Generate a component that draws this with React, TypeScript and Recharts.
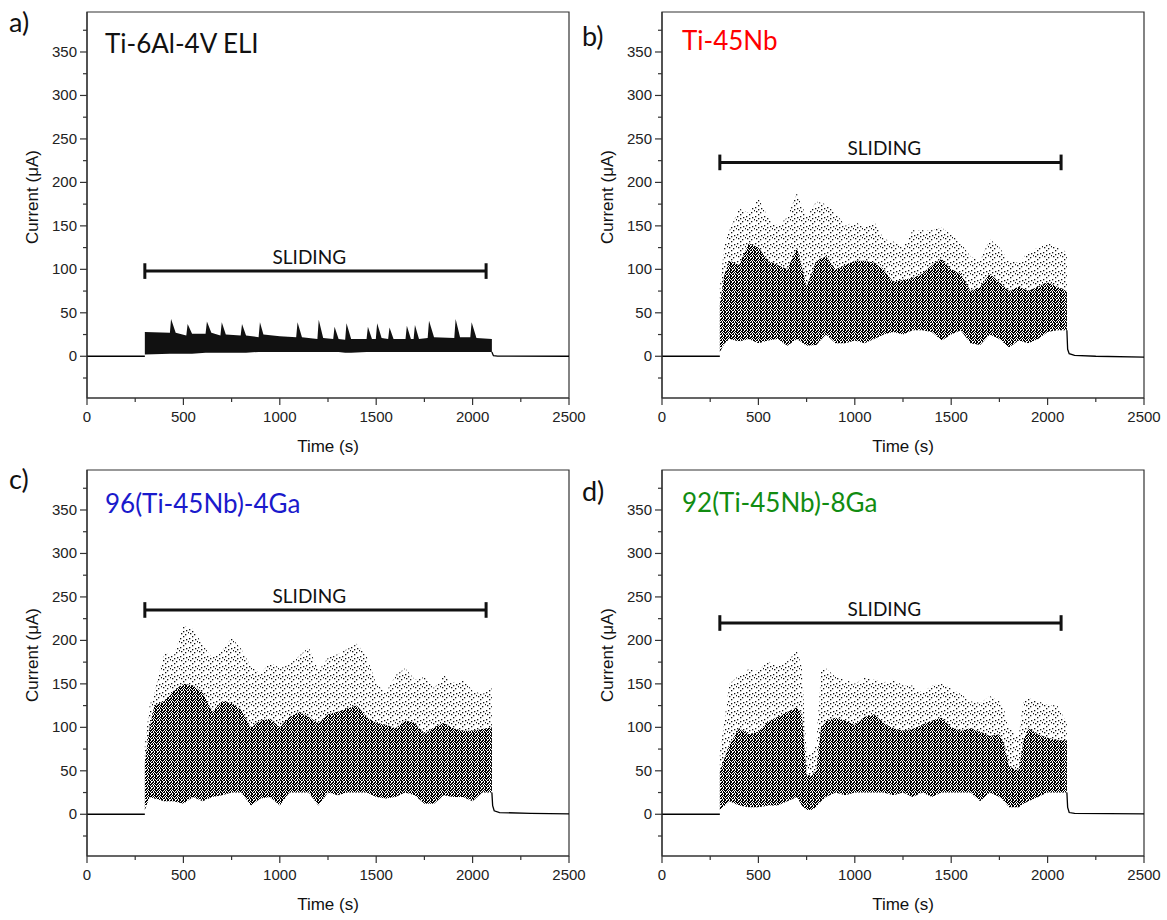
import {
  ComposedChart,
  Area,
  Line,
  XAxis,
  YAxis,
  ReferenceArea,
  ReferenceLine,
  ReferenceDot,
} from "recharts"

// axis ticks (minor + major)
const xTicks = [0, 250, 500, 750, 1000, 1250, 1500, 1750, 2000, 2250, 2500]
const yTicks = [-25, 0, 25, 50, 75, 100, 125, 150, 175, 200, 225, 250, 275, 300, 325, 350, 375]

// a) Ti-6Al-4V ELI
const aTime = [300, 430, 436, 460, 515, 522, 545, 615, 622, 645, 692, 699, 720, 797, 804, 825, 890, 897, 915, 1000, 1085, 1092, 1115, 1195, 1202, 1225, 1277, 1284, 1305, 1339, 1346, 1370, 1450, 1457, 1478, 1498, 1505, 1528, 1562, 1569, 1590, 1652, 1659, 1680, 1694, 1701, 1722, 1767, 1774, 1800, 1905, 1912, 1935, 1988, 1995, 2020, 2100]
const aLow = [2, 3, 3, 3, 3, 3, 3, 4, 4, 4, 4, 4, 4, 4, 4, 4, 5, 5, 5, 5, 5, 5, 5, 5, 5, 5, 5, 5, 5, 4, 4, 4, 5, 5, 5, 5, 5, 5, 5, 5, 5, 5, 5, 5, 5, 5, 5, 5, 5, 5, 5, 5, 5, 5, 5, 5, 5]
const aHigh = [28, 27, 43, 27, 24, 37, 26, 26, 40, 27, 24, 39, 25, 24, 37, 24, 22, 39, 25, 23, 22, 39, 22, 20, 42, 21, 20, 34, 20, 19, 38, 20, 20, 34, 20, 20, 38, 21, 20, 33, 20, 20, 35, 20, 20, 36, 20, 21, 41, 22, 21, 43, 22, 22, 39, 21, 20]
const aBaseTime = [0, 300, 1200, 2100, 2108, 2130, 2500]
const aBaseValue = [0, 0, null, 5, 0.6, 0.2, 0]

// b) Ti-45Nb
const bTime = [300, 325, 350, 400, 450, 500, 550, 600, 650, 700, 750, 800, 850, 900, 950, 1000, 1050, 1100, 1150, 1200, 1250, 1300, 1350, 1400, 1450, 1500, 1550, 1600, 1650, 1700, 1750, 1800, 1850, 1900, 1950, 2000, 2050, 2100]
const bLow = [5, 15, 20, 17, 20, 15, 18, 20, 12, 20, 12, 13, 25, 15, 15, 18, 15, 20, 25, 28, 25, 30, 30, 28, 18, 25, 30, 15, 13, 25, 20, 10, 18, 15, 20, 28, 30, 30]
const bHigh = [60, 95, 110, 105, 130, 125, 110, 105, 100, 125, 80, 110, 115, 100, 105, 110, 110, 108, 100, 85, 88, 90, 95, 105, 112, 100, 95, 75, 80, 95, 85, 75, 80, 75, 80, 85, 80, 75]
const bTop = [80, 130, 145, 170, 165, 182, 160, 150, 160, 188, 160, 178, 175, 165, 150, 155, 148, 155, 135, 132, 125, 145, 145, 145, 148, 140, 130, 115, 110, 135, 125, 110, 108, 120, 125, 130, 125, 120]
const bBaseTime = [0, 300, 1200, 2100, 2104, 2112, 2140, 2250, 2500]
const bBaseValue = [0, 0, null, 30, 8, 3, 1, 0, -1]

// c) 96(Ti-45Nb)-4Ga
const cTime = [300, 325, 350, 400, 450, 500, 550, 600, 650, 700, 750, 800, 850, 900, 950, 1000, 1050, 1100, 1150, 1200, 1250, 1300, 1350, 1400, 1450, 1500, 1550, 1600, 1650, 1700, 1750, 1800, 1850, 1900, 1950, 2000, 2050, 2100]
const cLow = [5, 20, 18, 15, 15, 12, 20, 15, 20, 22, 25, 25, 10, 18, 20, 10, 25, 25, 25, 10, 25, 22, 25, 25, 25, 20, 18, 20, 25, 22, 12, 12, 22, 20, 20, 15, 25, 25]
const cHigh = [60, 100, 125, 130, 142, 150, 148, 140, 118, 130, 128, 120, 100, 108, 110, 100, 112, 118, 112, 105, 115, 118, 122, 125, 112, 105, 103, 99, 108, 105, 92, 100, 105, 99, 96, 96, 98, 100]
const cTop = [80, 125, 140, 186, 182, 217, 213, 195, 180, 188, 203, 190, 170, 162, 175, 168, 172, 182, 192, 165, 180, 184, 190, 196, 182, 150, 140, 160, 168, 155, 158, 145, 160, 152, 155, 142, 138, 145]
const cBaseTime = [0, 300, 1200, 2100, 2104, 2112, 2140, 2300, 2500]
const cBaseValue = [0, 0, null, 25, 10, 4, 2, 1, 0.5]

// d) 92(Ti-45Nb)-8Ga
const dTime = [300, 350, 400, 450, 500, 550, 600, 650, 700, 725, 750, 775, 800, 825, 850, 900, 950, 1000, 1050, 1100, 1150, 1200, 1250, 1300, 1350, 1400, 1450, 1500, 1550, 1600, 1650, 1700, 1750, 1775, 1800, 1850, 1875, 1900, 1950, 2000, 2050, 2100]
const dLow = [5, 15, 10, 8, 8, 10, 10, 15, 20, 10, 5, 5, 8, 15, 20, 25, 22, 25, 25, 25, 25, 22, 25, 20, 25, 20, 25, 25, 25, 25, 15, 25, 20, 15, 8, 8, 12, 15, 20, 25, 25, 25]
const dHigh = [50, 80, 99, 92, 95, 107, 112, 118, 123, 115, 45, 45, 50, 100, 107, 111, 108, 103, 112, 115, 105, 99, 96, 98, 103, 108, 111, 100, 96, 99, 95, 90, 92, 80, 55, 50, 85, 99, 92, 88, 85, 85]
const dTop = [70, 150, 160, 167, 165, 176, 170, 176, 188, 170, 70, 70, 80, 165, 168, 158, 155, 150, 157, 155, 152, 155, 148, 148, 140, 148, 150, 145, 138, 130, 128, 136, 130, 120, 100, 90, 130, 134, 130, 126, 125, 105]
const dBaseTime = [0, 300, 1200, 2100, 2104, 2112, 2140, 2500]
const dBaseValue = [0, 0, null, 25, 8, 2, 1, 0.5]

const tickFont = "'Liberation Sans', Arial, sans-serif"
const labelFont = "Lato, 'Open Sans', sans-serif"

// stipple texture for the point clouds (X = ink pixel)
const denseTile = ["X.XX.X", ".XX.XX", "XX.X.X", "X.X.X.", ".XX.XX", "X..X.X"]
const sparseTile = ["X........", "......X..", "...X.....", "........X", ".X.......", ".....X...", "..........", "...X.....", "........."]

function tilePixels(tile: string[]) {
  const out: [number, number][] = []
  tile.forEach((row, y) => row.split("").forEach((c, x) => c === "X" && out.push([x, y])))
  return out
}

function XTick({ x, y, payload }: any) {
  const major = payload.value % 500 === 0
  return (
    <g>
      <line x1={x} x2={x} y1={y} y2={y + (major ? 7 : 4)} stroke="#333" strokeWidth={1.2} />
      {major && (
        <text x={x} y={y + 24} textAnchor="middle" fontSize={15} fontFamily={tickFont} fill="#222">
          {payload.value}
        </text>
      )}
    </g>
  )
}

function YTick({ x, y, payload }: any) {
  const major = payload.value % 50 === 0
  return (
    <g>
      <line x1={x} x2={x - (major ? 7 : 4)} y1={y} y2={y} stroke="#333" strokeWidth={1.2} />
      {major && (
        <text x={x - 10} y={y + 5} textAnchor="end" fontSize={15} fontFamily={tickFont} fill="#222">
          {payload.value}
        </text>
      )}
    </g>
  )
}

type PanelProps = {
  id: string
  left: number
  top: number
  letter: string
  letterLeft: number
  letterTop: number
  name: string
  nameColor: string
  nameLeft: number
  nameTop: number
  time: number[]
  low: number[]
  high: number[]
  upper?: number[]
  baseTime: number[]
  baseValue: (number | null)[]
  barLevel: number
  textLevel: number
  solid?: boolean
}

function Panel(p: PanelProps) {
  const rows = p.time.map((t, i) => ({
    t,
    dense: [p.low[i], p.high[i]],
    sparse: [p.high[i], p.upper ? p.upper[i] : p.high[i]],
  }))
  const base = p.baseTime.map((t, i) => ({ t, v: p.baseValue[i] }))

  return (
    <div style={{ position: "absolute", left: p.left, top: p.top, width: 600, height: 460 }}>
      <ComposedChart
        width={600}
        height={460}
        data={rows}
        margin={{ top: 12, right: 31, bottom: 0, left: 0 }}
      >
        <defs>
          <pattern id={`dense-${p.id}`} width={6} height={6} patternUnits="userSpaceOnUse">
            {tilePixels(denseTile).map(([dx, dy], i) => (
              <rect key={i} x={dx} y={dy} width={1} height={1} fill="#000" shapeRendering="crispEdges" />
            ))}
          </pattern>
          <pattern id={`sparse-${p.id}`} width={9} height={9} patternUnits="userSpaceOnUse">
            {tilePixels(sparseTile).map(([dx, dy], i) => (
              <rect key={i} x={dx} y={dy} width={1.3} height={1.3} fill="#111" />
            ))}
          </pattern>
        </defs>
        <XAxis
          dataKey="t"
          type="number"
          domain={[0, 2500]}
          allowDataOverflow
          ticks={xTicks}
          interval={0}
          tick={<XTick />}
          tickLine={false}
          tickSize={0}
          tickMargin={0}
          height={62}
          axisLine={{ stroke: "#333", strokeWidth: 1.2 }}
          label={{
            content: ({ viewBox }: any) => (
              <text
                x={viewBox.x + viewBox.width / 2}
                y={viewBox.y + 54}
                textAnchor="middle"
                fontSize={17}
                fontFamily={tickFont}
                fill="#111"
              >
                Time (s)
              </text>
            ),
          }}
        />
        <YAxis
          type="number"
          domain={[-48, 396]}
          allowDataOverflow
          ticks={yTicks}
          interval={0}
          tick={<YTick />}
          tickLine={false}
          tickSize={0}
          tickMargin={0}
          width={87}
          axisLine={{ stroke: "#333", strokeWidth: 1.2 }}
          label={{
            content: ({ viewBox }: any) => (
              <text
                transform={`translate(${viewBox.x + 38},${viewBox.y + viewBox.height / 2 - 8}) rotate(-90)`}
                textAnchor="middle"
                fontSize={17}
                fontFamily={tickFont}
                fill="#111"
              >
                Current (μA)
              </text>
            ),
          }}
        />
        <ReferenceArea x1={0} x2={2500} y1={-48} y2={396} fill="none" stroke="#333" strokeWidth={1.2} />
        <Area
          dataKey="sparse"
          type="linear"
          stroke="none"
          fill={`url(#sparse-${p.id})`}
          fillOpacity={1}
          isAnimationActive={false}
          dot={false}
          activeDot={false}
        />
        <Area
          dataKey="dense"
          type="linear"
          stroke="none"
          fill={p.solid ? "#111" : `url(#dense-${p.id})`}
          fillOpacity={1}
          isAnimationActive={false}
          dot={false}
          activeDot={false}
        />
        <Line
          data={base}
          dataKey="v"
          type="linear"
          stroke="#000"
          strokeWidth={1.3}
          dot={false}
          activeDot={false}
          connectNulls={false}
          isAnimationActive={false}
        />
        <ReferenceLine
          segment={[{ x: 300, y: p.barLevel }, { x: 2070, y: p.barLevel }]}
          stroke="#111"
          strokeWidth={3}
        />
        <ReferenceLine
          segment={[{ x: 300, y: p.barLevel - 9 }, { x: 300, y: p.barLevel + 9 }]}
          stroke="#111"
          strokeWidth={3}
        />
        <ReferenceLine
          segment={[{ x: 2070, y: p.barLevel - 9 }, { x: 2070, y: p.barLevel + 9 }]}
          stroke="#111"
          strokeWidth={3}
        />
        <ReferenceDot
          x={1153}
          y={p.textLevel}
          r={0}
          fill="none"
          stroke="none"
          label={{ value: "SLIDING", position: "center", fontSize: 19, fontFamily: labelFont, fill: "#111" }}
        />
      </ComposedChart>
      <div
        style={{
          position: "absolute",
          left: p.letterLeft,
          top: p.letterTop,
          fontFamily: labelFont,
          fontSize: 27,
          lineHeight: 1,
          color: "#111",
        }}
      >
        {p.letter}
      </div>
      <div
        style={{
          position: "absolute",
          left: p.nameLeft,
          top: p.nameTop,
          fontFamily: labelFont,
          fontSize: 26,
          lineHeight: 1,
          color: p.nameColor,
          whiteSpace: "nowrap",
        }}
      >
        {p.name}
      </div>
    </div>
  )
}

export default function App() {
  return (
    <div style={{ position: "absolute", left: 0, top: 0, width: 1167, height: 920, background: "#fff" }}>
      <Panel
        id="a"
        left={0}
        top={0}
        letter="a)"
        letterLeft={9}
        letterTop={8}
        name="Ti-6Al-4V ELI"
        nameColor="#111"
        nameLeft={105}
        nameTop={30}
        time={aTime}
        low={aLow}
        high={aHigh}
        baseTime={aBaseTime}
        baseValue={aBaseValue}
        barLevel={98}
        textLevel={114}
        solid
      />
      <Panel
        id="b"
        left={575}
        top={0}
        letter="b)"
        letterLeft={7}
        letterTop={22}
        name="Ti-45Nb"
        nameColor="#ff0000"
        nameLeft={107}
        nameTop={27}
        time={bTime}
        low={bLow}
        high={bHigh}
        upper={bTop}
        baseTime={bBaseTime}
        baseValue={bBaseValue}
        barLevel={223}
        textLevel={239}
      />
      <Panel
        id="c"
        left={0}
        top={458}
        letter="c)"
        letterLeft={9}
        letterTop={7}
        name="96(Ti-45Nb)-4Ga"
        nameColor="#1a1acc"
        nameLeft={105}
        nameTop={32}
        time={cTime}
        low={cLow}
        high={cHigh}
        upper={cTop}
        baseTime={cBaseTime}
        baseValue={cBaseValue}
        barLevel={235}
        textLevel={251}
      />
      <Panel
        id="d"
        left={575}
        top={458}
        letter="d)"
        letterLeft={7}
        letterTop={19}
        name="92(Ti-45Nb)-8Ga"
        nameColor="#118c11"
        nameLeft={107}
        nameTop={31}
        time={dTime}
        low={dLow}
        high={dHigh}
        upper={dTop}
        baseTime={dBaseTime}
        baseValue={dBaseValue}
        barLevel={220}
        textLevel={236}
      />
    </div>
  )
}
